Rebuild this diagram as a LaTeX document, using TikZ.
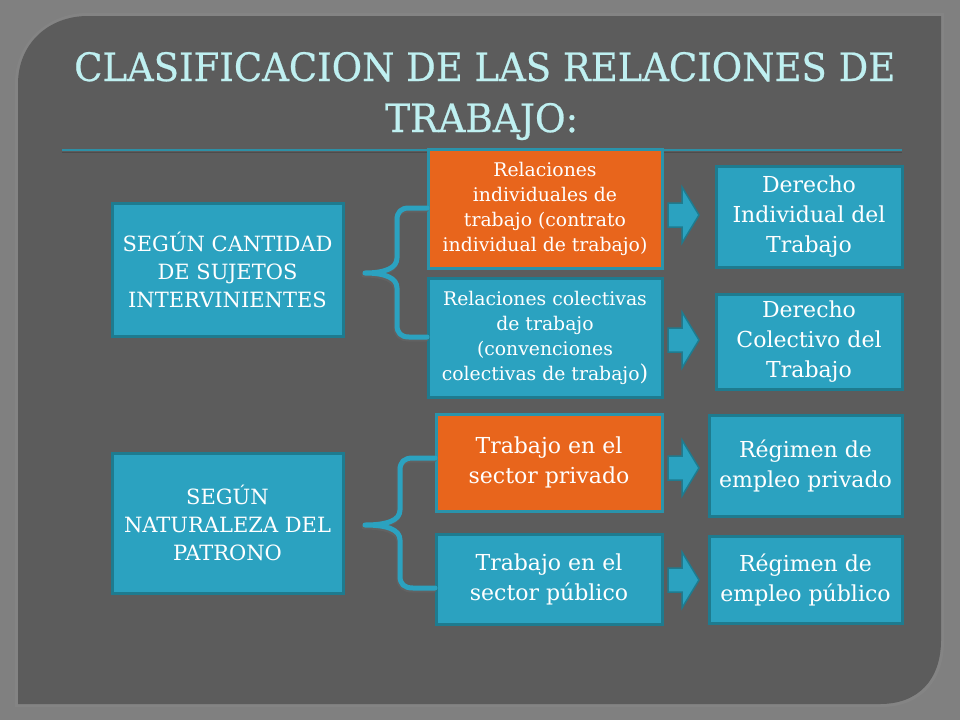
\documentclass[tikz,border=0pt]{standalone}
\usepackage{fontspec}
\usepackage{graphicx}
\newfontfamily\bodyfont{DejaVu Serif}
\newfontfamily\titlefont[FakeBold=0.6]{DejaVu Serif}
\usetikzlibrary{calc}
\definecolor{outerbg}{HTML}{808080}
\definecolor{panelbg}{HTML}{5C5C5C}
\definecolor{tealfill}{HTML}{2BA2C0}
\definecolor{tealdark}{HTML}{1E7B8F}
\definecolor{tealedge}{HTML}{2A93AB}
\definecolor{orangefill}{HTML}{E8651C}
\definecolor{titlecol}{HTML}{BFF0F1}
\definecolor{rulecol}{HTML}{2D8FA5}
\tikzset{
  boxbase/.style={rectangle, line width=3pt, text=white, align=center, inner sep=0pt},
  tealbox/.style={boxbase, fill=tealfill, draw=tealdark},
  orangebox/.style={boxbase, fill=orangefill, draw=tealedge},
  bigtext/.style={font=\bodyfont\fontsize{21}{28}\selectfont},
  smalltext/.style={font=\bodyfont\fontsize{18.8}{25}\selectfont},
  midtext/.style={font=\bodyfont\fontsize{22}{30}\selectfont},
  blkarrow/.style={fill=tealfill, draw=tealdark, line width=1.5pt, line join=miter},
  bracestyle/.style={draw=tealfill, line width=5pt, line cap=round, line join=round},
  braceshadow/.style={draw=black!60, line width=5pt, line cap=round, line join=round, opacity=0.6},
  titletext/.style={inner sep=0pt, anchor=base west, text=titlecol}
}
\newcommand\lineone{\resizebox{821pt}{29pt}{\titlefont CLASIFICACION DE LAS RELACIONES DE}}
\newcommand\linetwo{\resizebox{193pt}{29pt}{\titlefont TRABAJO:}}
\begin{document}
\begin{tikzpicture}[x=1pt,y=-1pt]
\useasboundingbox (0,0) rectangle (960,720);
% backgrounds
\fill[outerbg] (0,0) rectangle (960,720);
\fill[black!45,opacity=0.4] (15,84) .. controls (15,43) and (47,13) .. (88,13) -- (944,13) -- (944,640) .. controls (944,682) and (920,707) .. (880,707) -- (15,707) -- cycle;
\fill[panelbg] (18,84) .. controls (18,44) and (48,16) .. (88,16) -- (941,16) -- (941,640) .. controls (941,680) and (918,704) .. (880,704) -- (18,704) -- cycle;
% title
\node[titletext] (t1) at (74,81) {\lineone};
\node[titletext] (t2) at (385,132) {\linetwo};
% rule
\coordinate (rl) at (62,150);
\coordinate (rr) at (902,150);
\draw[black!70, line width=1pt] ($(rl)+(0,2)$) -- ($(rr)+(0,2)$);
\draw[rulecol, line width=2.5pt] (rl) -- (rr);
% left boxes
\node[tealbox, bigtext, minimum width=231pt, minimum height=133pt] (L1) at (227.5,269.5) {SEGÚN CANTIDAD\\DE SUJETOS\\INTERVINIENTES};
\node[tealbox, bigtext, minimum width=231pt, minimum height=140pt] (L2) at (227.5,523) {SEGÚN\\NATURALEZA DEL\\PATRONO};
% middle boxes
\node[orangebox, smalltext, minimum width=234pt, minimum height=119pt] (O1) at (545,208.5) {Relaciones\\individuales de\\trabajo (contrato\\individual de trabajo)};
\node[tealbox, smalltext, minimum width=234pt, minimum height=119pt] (T2) at (545,337.5) {Relaciones colectivas\\de trabajo\\(convenciones\\colectivas de trabajo{\fontsize{22}{25}\selectfont)}};
\node[orangebox, midtext, minimum width=226pt, minimum height=97pt] (O3) at (549,462.5) {Trabajo en el\\sector privado};
\node[tealbox, midtext, minimum width=226pt, minimum height=90pt] (T4) at (549,579) {Trabajo en el\\sector público};
% right boxes
\node[tealbox, midtext, minimum width=186pt, minimum height=101pt] (R1) at (809,216.5) {Derecho\\Individual del\\Trabajo};
\node[tealbox, midtext, minimum width=186pt, minimum height=95pt] (R2) at (809,341.5) {Derecho\\Colectivo del\\Trabajo};
\node[tealbox, midtext, minimum width=193pt, minimum height=101pt] (R3) at (805.5,465.5) {Régimen de\\empleo privado};
\node[tealbox, midtext, minimum width=193pt, minimum height=87pt] (R4) at (805.5,579.5) {Régimen de\\empleo público};
% block arrows
\coordinate (a1) at (668,215);
\coordinate (a2) at (668,340);
\coordinate (a3) at (668,468);
\coordinate (a4) at (668,580);
\foreach \a in {a1,a2,a3,a4}{
  \draw[blkarrow] (\a) ++(0,-12) -- ++(14,0) -- ++(0,-16) -- ++(17,28) -- ++(-17,28) -- ++(0,-16) -- ++(-14,0) -- cycle;
}
% braces
\coordinate (b1top) at (427,208);
\coordinate (b1tip) at (365,273);
\coordinate (b1bot) at (427,337);
\coordinate (b2top) at (435,458);
\coordinate (b2tip) at (365,525);
\coordinate (b2bot) at (435,588);
\draw[braceshadow] ($(b1top)+(-1,2)$) -- (408,210) .. controls (401,210) and (396,214) .. (396,222) -- (396,260) .. controls (396,270) and (384,275) .. ($(b1tip)+(-1,2)$) .. controls (384,275) and (396,280) .. (396,290) -- (396,327) .. controls (396,335) and (401,339) .. (408,339) -- ($(b1bot)+(-1,2)$);
\draw[bracestyle] (b1top) -- (409,208) .. controls (401,208) and (397,212) .. (397,220) -- (397,258) .. controls (397,268) and (385,273) .. (b1tip) .. controls (385,273) and (397,278) .. (397,288) -- (397,325) .. controls (397,333) and (401,337) .. (409,337) -- (b1bot);
\draw[braceshadow] ($(b2top)+(-1,2)$) -- (412,460) .. controls (404,460) and (399,464) .. (399,472) -- (399,512) .. controls (399,522) and (387,527) .. ($(b2tip)+(-1,2)$) .. controls (387,527) and (399,532) .. (399,542) -- (399,578) .. controls (399,586) and (404,590) .. (412,590) -- ($(b2bot)+(-1,2)$);
\draw[bracestyle] (b2top) -- (413,458) .. controls (404,458) and (400,462) .. (400,470) -- (400,510) .. controls (400,520) and (388,525) .. (b2tip) .. controls (388,525) and (400,530) .. (400,540) -- (400,576) .. controls (400,584) and (404,588) .. (413,588) -- (b2bot);
\end{tikzpicture}
\end{document}
